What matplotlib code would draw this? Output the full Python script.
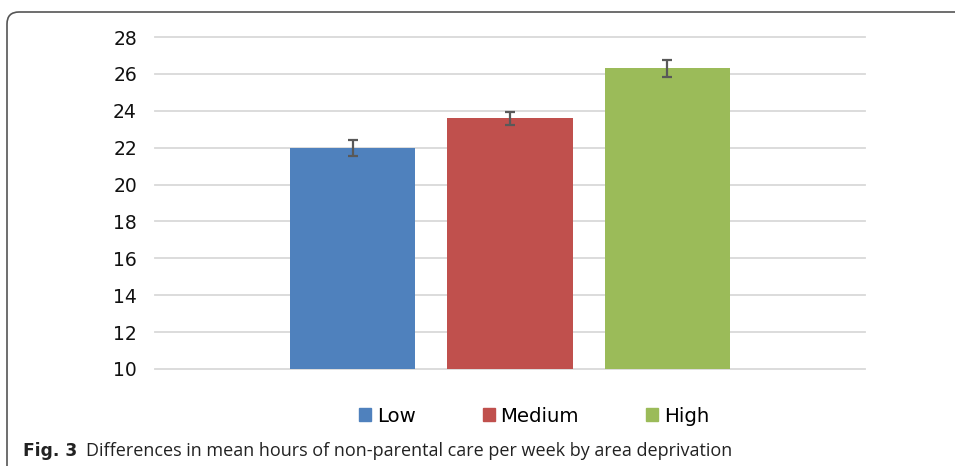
import matplotlib
matplotlib.use("Agg")
import matplotlib.pyplot as plt
from matplotlib.patches import FancyBboxPatch, Patch
from matplotlib.transforms import IdentityTransform

# data
groups = ["Low", "Medium", "High"]
means = [22.0, 23.6, 26.3]
errors = [0.43, 0.35, 0.46]
colors = ["#4F81BD", "#C0504D", "#9BBB59"]
yticks = [10, 12, 14, 16, 18, 20, 22, 24, 26, 28]

fig = plt.figure(figsize=(9.55, 4.66), dpi=100)
ax = fig.add_axes([155 / 955, 1 - 369 / 466, 710 / 955, 332 / 466])

x = list(range(len(groups)))
ax.bar(x, [m - 10 for m in means], bottom=10, width=0.794, color=colors, zorder=2)
ax.errorbar(x, means, yerr=errors, fmt="none", ecolor="#595959",
            elinewidth=1.6, capsize=3.8, capthick=1.6, zorder=3)

ax.set_ylim(10, 28)
ax.set_xlim(-1.254, 3.254)
ax.set_yticks(yticks)
ax.set_xticks([])
ax.grid(axis="y", color="#d9d9d9", lw=1.3, zorder=0)
for gl in ax.get_ygridlines():
    gl.set_clip_on(False)
for s in ax.spines.values():
    s.set_visible(False)
ax.tick_params(axis="y", length=0, pad=13, labelsize=13.5, labelcolor="#111111")

handles = [Patch(color=c, label=g) for g, c in zip(groups, colors)]
fig.legend(handles=handles, loc="center", bbox_to_anchor=(534 / 955, 1 - 416 / 466),
           ncol=3, frameon=False, fontsize=14.2, handlelength=0.62, handleheight=0.62,
           handletextpad=0.28, columnspacing=3.4)

# rounded frame (top and left edges only visible)
frame = FancyBboxPatch((7, -30), 1000, 30 + 466 - 12,
                       boxstyle="round,pad=0,rounding_size=12",
                       transform=IdentityTransform(), fill=False,
                       edgecolor="#555555", lw=1.2)
fig.add_artist(frame)

fig.text(23 / 955, 1 - 451 / 466, "Fig. 3", fontsize=12.3, fontweight="bold",
         family="DejaVu Sans", va="center", ha="left", color="#222222")
fig.text(86 / 955, 1 - 451 / 466,
         "Differences in mean hours of non-parental care per week by area deprivation",
         fontsize=13, family="Open Sans", va="center", ha="left", color="#222222")

fig.savefig("out.png", dpi=100)
